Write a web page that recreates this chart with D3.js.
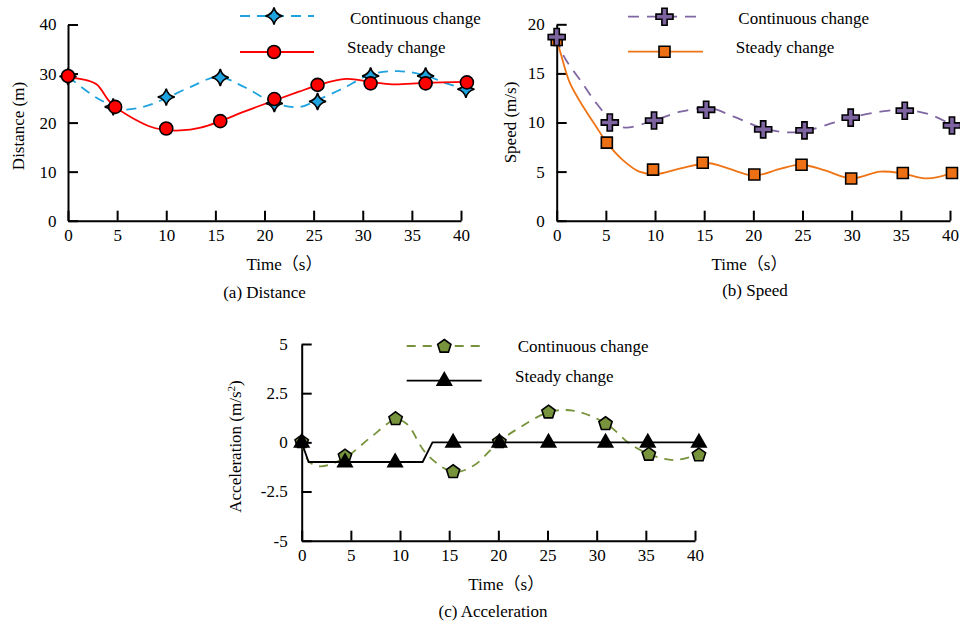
<!DOCTYPE html>
<html lang="en">
<head>
<meta charset="utf-8">
<title>Distance, speed and acceleration</title>
<script src="https://cdn.jsdelivr.net/npm/d3@7"></script>
<style>
    body { margin: 0; background: #fff; }
    text { font-family: "Liberation Serif", "Times New Roman", "Noto Sans CJK SC", serif; fill: #000; }
</style>
</head>
<body>
<script>

    // common x ticks (time, s)
    var timeTicks = [0, 5, 10, 15, 20, 25, 30, 35, 40];

    // (a) distance - markers
    var distContT = [0, 4.6, 10, 15.5, 21, 25.4, 30.8, 36.4, 40.5];
    var distContV = [29.4, 23.2, 25.2, 29.2, 23.9, 24.3, 29.5, 29.5, 26.8];
    var distSteadyT = [0, 4.8, 10, 15.5, 21, 25.4, 30.8, 36.4, 40.6];
    var distSteadyV = [29.5, 23.2, 18.8, 20.3, 24.8, 27.7, 28.0, 28.0, 28.2];
    // (a) distance - curves
    var distContCurveT = [0, 2.2, 3.6, 5.6, 8, 10, 12.5, 15.3, 18, 21, 23.6, 25.4, 28, 30.8, 33.6, 36.4, 38.5, 40.5];
    var distContCurveV = [29.4, 26.0, 24.3, 22.7, 23.4, 25.0, 27.3, 29.3, 27.2, 24.0, 23.2, 24.6, 27.0, 29.8, 30.5, 29.6, 28.0, 26.8];
    var distSteadyCurveT = [0, 1.5, 2.9, 4.1, 4.8, 6.6, 8.5, 10, 11.4, 13.5, 15.5, 18, 21, 23.5, 25.4, 28.3, 30.8, 33, 36.4, 40.6];
    var distSteadyCurveV = [29.1, 28.8, 27.8, 24.6, 23.2, 20.9, 19.1, 18.5, 18.4, 19.0, 20.3, 22.3, 24.5, 26.3, 27.6, 28.9, 28.3, 27.8, 28.1, 28.3];
    var distTicks = [0, 10, 20, 30, 40];

    // (b) speed - markers
    var speedContT = [0, 5.4, 9.9, 15.2, 21, 25.2, 29.9, 35.4, 40.2];
    var speedContV = [18.7, 10.0, 10.2, 11.3, 9.3, 9.2, 10.5, 11.2, 9.7];
    var speedSteadyT = [0, 5.1, 9.8, 14.85, 20.1, 24.9, 29.95, 35.2, 40.2];
    var speedSteadyV = [18.4, 7.95, 5.2, 5.9, 4.7, 5.7, 4.3, 4.85, 4.85];
    // (b) speed - curves
    var speedContCurveT = [0, 0.75, 2.4, 4.0, 5.4, 6.8, 9.9, 12.6, 15.6, 18, 21, 23.5, 25.2, 27.9, 29.9, 32.9, 35.4, 38, 40.2];
    var speedContCurveV = [18.7, 16.7, 14.3, 12.0, 10.4, 9.5, 10.2, 11.1, 11.45, 10.6, 9.4, 9.0, 9.1, 9.9, 10.5, 11.1, 11.3, 10.8, 9.75];
    var speedSteadyCurveT = [0, 0.5, 1.35, 2.7, 4.0, 5.1, 6.7, 8.4, 10.1, 12.5, 15.5, 17.5, 20.1, 22.8, 24.9, 27.2, 30, 32.9, 35.2, 37.7, 40.2];
    var speedSteadyCurveV = [18.5, 16.7, 14.0, 11.6, 9.6, 7.95, 6.2, 5.0, 4.75, 5.3, 5.85, 5.3, 4.6, 5.3, 5.7, 5.15, 4.3, 5.0, 4.8, 4.3, 4.85];
    var speedTicks = [0, 5, 10, 15, 20];

    // (c) acceleration - markers
    var accContT = [0, 4.4, 9.55, 15.4, 20.1, 25.1, 30.9, 35.3, 40.4];
    var accContV = [0.05, -0.68, 1.22, -1.47, 0.05, 1.56, 0.97, -0.59, -0.62];
    var accSteadyT = [0, 4.4, 9.5, 15.4, 20.1, 25.1, 30.9, 35.2, 40.4];
    var accSteadyV = [0, -1, -1, 0, 0, 0, 0, 0, 0];
    // (c) acceleration - curves
    var accContCurveT = [0, 0.7, 1.9, 4.4, 7, 9.55, 10.7, 12.7, 15.4, 17.5, 20.1, 22.2, 25.1, 27.6, 30.9, 33.4, 35.3, 37.8, 40.4];
    var accContCurveV = [0, -0.95, -1.22, -0.78, 0.25, 1.15, 0.93, -0.59, -1.5, -1.18, 0.05, 0.76, 1.53, 1.61, 0.97, -0.08, -0.59, -0.9, -0.62];
    var accSteadyCurveT = [0, 0.7, 12.3, 13.3, 40.4];
    var accSteadyCurveV = [0, -1, -1, 0, 0];
    var accTicks = [-5, -2.5, 0, 2.5, 5];

    var legendLabels = ["Continuous change", "Steady change"];

    // marker shapes
    function star4() {
        var r = 8.5, c = 1.6;
        return "M0," + (-r) + "Q" + c + "," + (-c) + " " + r + ",0Q" + c + "," + c + " 0," + r +
            "Q" + (-c) + "," + c + " " + (-r) + ",0Q" + (-c) + "," + (-c) + " 0," + (-r) + "Z";
    }
    function plus() {
        var a = 8.5, b = 2.6;
        return "M" + (-b) + "," + (-a) + "H" + b + "V" + (-b) + "H" + a + "V" + b + "H" + b + "V" + a +
            "H" + (-b) + "V" + b + "H" + (-a) + "V" + (-b) + "H" + (-b) + "Z";
    }
    function circle() {
        var r = 6.5;
        return "M" + r + ",0A" + r + "," + r + " 0 1,1 " + (-r) + ",0A" + r + "," + r + " 0 1,1 " + r + ",0Z";
    }
    function square() {
        var s = 5.5;
        return "M" + (-s) + "," + (-s) + "H" + s + "V" + s + "H" + (-s) + "Z";
    }
    function pentagon() {
        var pts = [];
        for (var k = 0; k < 5; k++) {
            var ang = -Math.PI / 2 + k * 2 * Math.PI / 5;
            pts.push([7 * Math.cos(ang), 7 * Math.sin(ang) + 0.5]);
        }
        return "M" + pts.join("L") + "Z";
    }
    function triangle() {
        return "M0,-8L7.2,4.6L-7.2,4.6Z";
    }

    var svg = d3.select("body")
        .append("svg")
        .attr("width", 960)
        .attr("height", 626);

    var panels = [
        {
            x: [68, 461], y: [220.7, 24.5], yDomain: [0, 40], yTicks: distTicks, yPad: 11.5,
            yTitle: "Distance (m)", yTitlePos: [24, 126],
            xTitlePos: [246.5, 270], caption: "(a) Distance", captionPos: [264.5, 298],
            legend: { x1: 240, x2: 314, mx: 274, tx: [350, 347], ly: [16, 52], ty: [23.5, 53] },
            series: [
                { t: distContCurveT, v: distContCurveV, mt: distContT, mv: distContV, color: "#1ea3df", fill: "#1ea3df", dash: "10,7", shape: star4, curve: d3.curveCatmullRom },
                { t: distSteadyCurveT, v: distSteadyCurveV, mt: distSteadyT, mv: distSteadyV, color: "#ff0000", fill: "#ff0000", dash: null, shape: circle, curve: d3.curveCatmullRom }
            ]
        },
        {
            x: [556.7, 950], y: [220.7, 24.3], yDomain: [0, 20], yTicks: speedTicks, yPad: 12,
            yTitle: "Speed (m/s)", yTitlePos: [516, 122.5],
            xTitlePos: [711.5, 269.5], caption: "(b) Speed", captionPos: [755, 295.5],
            legend: { x1: 628, x2: 703, mx: 664.5, tx: [738.3, 735.7], ly: [16.7, 51.7], ty: [23.5, 53] },
            series: [
                { t: speedSteadyCurveT, v: speedSteadyCurveV, mt: speedSteadyT, mv: speedSteadyV, color: "#ee7415", fill: "#ee7014", dash: null, shape: square, curve: d3.curveCatmullRom, legendRow: 1 },
                { t: speedContCurveT, v: speedContCurveV, mt: speedContT, mv: speedContV, color: "#8066a2", fill: "#7d64a0", dash: "11,8", shape: plus, curve: d3.curveCatmullRom, legendRow: 0 }
            ]
        },
        {
            x: [301.7, 695], y: [540.7, 344], yDomain: [-5, 5], yTicks: accTicks, yPad: 14,
            yTitle: "Acceleration (m/s", yTitlePos: [241, 446.5],
            xTitlePos: [468.3, 589.5], caption: "(c) Acceleration", captionPos: [493, 617],
            legend: { x1: 406.7, x2: 481.7, mx: 444.3, tx: [517.7, 515], ly: [346, 380.7], ty: [352, 381.5] },
            series: [
                { t: accContCurveT, v: accContCurveV, mt: accContT, mv: accContV, color: "#77933c", fill: "#77933c", dash: "9,7", shape: pentagon, curve: d3.curveCatmullRom },
                { t: accSteadyCurveT, v: accSteadyCurveV, mt: accSteadyT, mv: accSteadyV, color: "#000000", fill: "#000000", dash: null, shape: triangle, curve: d3.curveLinear }
            ]
        }
    ];

    panels.forEach(function(p, pi) {
        var x = d3.scaleLinear().domain([0, 40]).range(p.x);
        var y = d3.scaleLinear().domain(p.yDomain).range(p.y);
        var g = svg.append("g");

        // axes with inward ticks
        var xAxis = g.append("g")
            .attr("transform", "translate(0," + p.y[0] + ")")
            .call(d3.axisBottom(x).tickValues(timeTicks).tickSizeInner(-10).tickSizeOuter(0).tickPadding(8.5));
        var yAxis = g.append("g")
            .attr("transform", "translate(" + p.x[0] + ",0)")
            .call(d3.axisLeft(y).tickValues(p.yTicks).tickSizeInner(-10).tickSizeOuter(0).tickPadding(p.yPad)
                .tickFormat(function(d) { return String(d); }));
        [xAxis, yAxis].forEach(function(a) {
            a.select(".domain").attr("stroke", "#000").attr("stroke-width", 2);
            a.selectAll(".tick line").attr("stroke", "#000").attr("stroke-width", 2);
            a.selectAll("text").attr("font-size", 17).attr("font-family", null).attr("fill", "#000");
        });

        // titles
        g.append("text")
            .attr("x", p.xTitlePos[0]).attr("y", p.xTitlePos[1])
            .attr("font-size", 17)
            .text("Time（s）");
        g.append("text")
            .attr("x", p.captionPos[0]).attr("y", p.captionPos[1])
            .attr("text-anchor", "middle")
            .attr("font-size", 17)
            .text(p.caption);
        var yt = g.append("text")
            .attr("transform", "translate(" + p.yTitlePos[0] + "," + p.yTitlePos[1] + ") rotate(-90)")
            .attr("text-anchor", "middle")
            .attr("font-size", 17)
            .text(p.yTitle);
        if (pi == 2) {
            yt.append("tspan").attr("font-size", 11).attr("dy", -6).text("2");
            yt.append("tspan").attr("dy", 6).text(")");
        }

        // curves
        p.series.forEach(function(s) {
            var line = d3.line()
                .x(function(d, i) { return x(s.t[i]); })
                .y(function(d, i) { return y(s.v[i]); })
                .curve(s.curve);
            g.append("path")
                .attr("d", line(s.t))
                .attr("fill", "none")
                .attr("stroke", s.color)
                .attr("stroke-width", 1.8)
                .attr("stroke-dasharray", s.dash);
        });

        // markers
        p.series.forEach(function(s) {
            g.append("g")
                .selectAll("path")
                .data(s.mt)
                .enter()
                .append("path")
                .attr("d", s.shape())
                .attr("transform", function(d, i) { return "translate(" + x(d) + "," + y(s.mv[i]) + ")"; })
                .attr("fill", s.fill)
                .attr("stroke", "#000")
                .attr("stroke-width", 1.6)
                .attr("stroke-linejoin", "miter");
        });

        // legend
        var L = p.legend;
        p.series.forEach(function(s, si) {
            var row = s.legendRow !== undefined ? s.legendRow : si;
            g.append("line")
                .attr("x1", L.x1).attr("x2", L.x2)
                .attr("y1", L.ly[row]).attr("y2", L.ly[row])
                .attr("stroke", s.color)
                .attr("stroke-width", 1.8)
                .attr("stroke-dasharray", s.dash);
            g.append("path")
                .attr("d", s.shape())
                .attr("transform", "translate(" + L.mx + "," + L.ly[row] + ")")
                .attr("fill", s.fill)
                .attr("stroke", "#000")
                .attr("stroke-width", 1.6);
            g.append("text")
                .attr("x", L.tx[row]).attr("y", L.ty[row])
                .attr("font-size", 17)
                .text(legendLabels[row]);
        });
    });
</script>
</body>
</html>
